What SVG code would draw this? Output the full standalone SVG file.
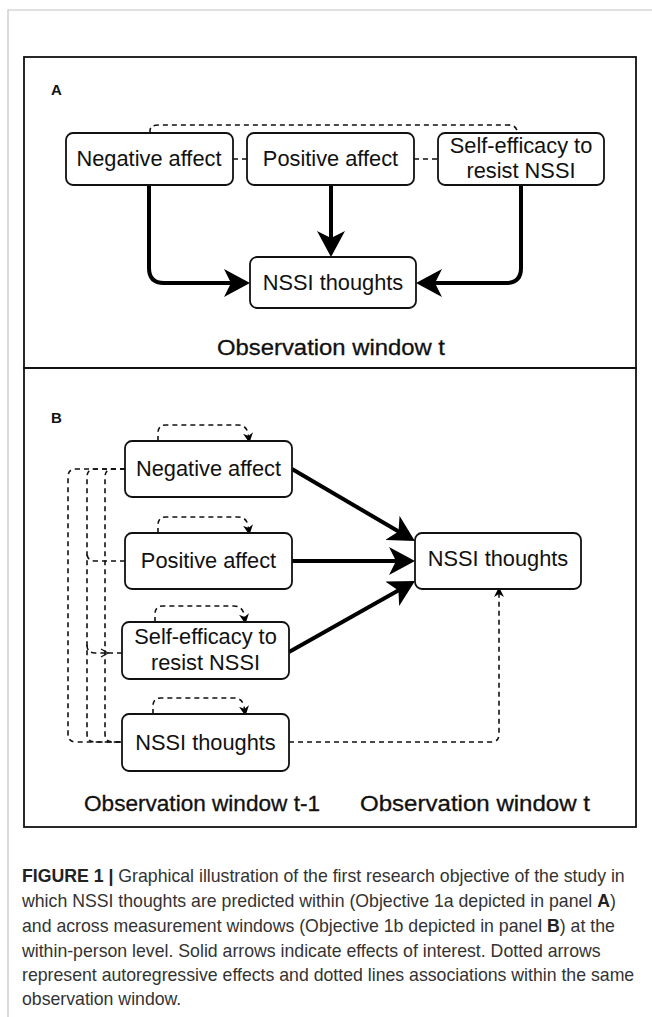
<svg xmlns="http://www.w3.org/2000/svg" width="652" height="1017" viewBox="0 0 652 1017">
<style>
  .frame{fill:none;stroke:#c4c4c4;stroke-width:1.2}
  .panel{fill:none;stroke:#111;stroke-width:1.8}
  .node rect{fill:#fff;stroke:#111;stroke-width:1.8}
  .node text{font-family:"Liberation Sans",Arial,sans-serif;font-size:21.8px;fill:#111;text-anchor:middle}
  .solid{fill:none;stroke:#000;stroke-width:4;stroke-linejoin:round}
  .dash{fill:none;stroke:#111;stroke-width:1.6;stroke-dasharray:5 4}
  .plabel{font-family:"Liberation Sans",Arial,sans-serif;font-size:15px;font-weight:bold;fill:#111}
  .wlabel{font-family:"Liberation Sans",Arial,sans-serif;font-size:21.5px;fill:#111;stroke:#111;stroke-width:0.3}
  .cap{font-family:"Liberation Sans",Arial,sans-serif;font-size:17.7px;fill:#333}
  .b{font-weight:bold;fill:#222}
</style>
<defs>
  <marker id="big" markerUnits="userSpaceOnUse" markerWidth="26" markerHeight="28" viewBox="0 0 26 28" refX="18" refY="14" orient="auto">
    <path d="M0,0 L26,14 L0,28 L7,14 Z" fill="#000"/>
  </marker>
  <marker id="small" markerUnits="userSpaceOnUse" markerWidth="10" markerHeight="10" viewBox="0 0 10 10" refX="7" refY="5" orient="auto">
    <path d="M0,0 L10,5 L0,10 L3,5 Z" fill="#000"/>
  </marker>
  <marker id="chev" markerUnits="userSpaceOnUse" markerWidth="10" markerHeight="10" viewBox="0 0 10 10" refX="8" refY="5" orient="auto">
    <path d="M1,1 L8,5 L1,9" fill="none" stroke="#111" stroke-width="1.3"/>
  </marker>
</defs>

<path class="frame" d="M8,1017 V10 H652"/>

<rect class="panel" x="24" y="57" width="612" height="311"/>
<rect class="panel" x="24" y="368" width="612" height="459"/>
<text class="plabel" x="51" y="95">A</text>
<text class="plabel" x="51" y="423">B</text>

<g id="connectors">
  <!-- Panel A -->
  <path class="dash" d="M150,133 V131 Q150,125 158,125 H508 Q516,125 517,131 V133"/>
  <path class="dash" d="M233,159 H247"/>
  <path class="dash" d="M414,159 H438"/>
  <path class="solid" d="M149,185 V268 Q149,283 164,283 H242" marker-end="url(#big)"/>
  <path class="solid" d="M331,185 V249" marker-end="url(#big)"/>
  <path class="solid" d="M521,185 V268 Q521,283 506,283 H424" marker-end="url(#big)"/>

  <!-- Panel B self loops (autoregressive) -->
  <path class="dash" d="M158,441 V433 Q158,425 166,425 H238 Q246,425 248,433 L249,440" marker-end="url(#small)"/>
  <path class="dash" d="M158,533 V525 Q158,517 166,517 H238 Q246,517 248,525 L249,532" marker-end="url(#small)"/>
  <path class="dash" d="M155,622 V614 Q155,606 163,606 H234 Q242,606 244,614 L245,621" marker-end="url(#small)"/>
  <path class="dash" d="M153,714 V706 Q153,698 161,698 H234 Q242,698 244,706 L245,713" marker-end="url(#small)"/>

  <!-- Panel B left associations -->
  <path class="dash" d="M125,469 H76 Q68,469 68,477 V734 Q68,742 76,742 H122"/>
  <path class="dash" d="M125,469 H95 Q87,469 87,477 V734 Q87,742 95,742 H122"/>
  <path class="dash" d="M125,469 H113 Q105,469 105,477 V734 Q105,742 113,742 H122"/>
  <path class="dash" d="M125,561 H95 Q87,561 87,553"/>
  <path class="dash" d="M87,645 Q87,653 95,653 H108" marker-end="url(#chev)"/>
  <path class="dash" d="M108,653 H122"/>

  <!-- Panel B solid effects -->
  <path class="solid" d="M292,469 L408,537" marker-end="url(#big)"/>
  <path class="solid" d="M292,561 H407" marker-end="url(#big)"/>
  <path class="solid" d="M289,652 L408,585" marker-end="url(#big)"/>

  <!-- NSSI t-1 to NSSI t -->
  <path class="dash" d="M289,742 H491 Q499,742 499,734 V590" marker-end="url(#small)"/>
</g>

<g id="nodeA-neg" class="node"><rect x="66" y="133" width="167" height="52" rx="7"/><text x="149" y="166">Negative affect</text></g>
<g id="nodeA-pos" class="node"><rect x="247" y="133" width="167" height="52" rx="7"/><text x="330.5" y="166">Positive affect</text></g>
<g id="nodeA-se" class="node"><rect x="438" y="133" width="166" height="52" rx="7"/><text x="521" y="153">Self-efficacy to</text><text x="521" y="178">resist NSSI</text></g>
<g id="nodeA-nssi" class="node"><rect x="250" y="257" width="166" height="51" rx="7"/><text x="333" y="290">NSSI thoughts</text></g>
<text class="wlabel" x="217" y="355" textLength="228" lengthAdjust="spacingAndGlyphs">Observation window t</text>

<g id="nodeB-neg" class="node"><rect x="125" y="441" width="167" height="56" rx="7"/><text x="208.5" y="476">Negative affect</text></g>
<g id="nodeB-pos" class="node"><rect x="125" y="533" width="167" height="56" rx="7"/><text x="208.5" y="568">Positive affect</text></g>
<g id="nodeB-se" class="node"><rect x="122" y="622" width="167" height="57" rx="7"/><text x="205.5" y="644">Self-efficacy to</text><text x="205.5" y="670">resist NSSI</text></g>
<g id="nodeB-nssi1" class="node"><rect x="122" y="714" width="167" height="57" rx="7"/><text x="205.5" y="750">NSSI thoughts</text></g>
<g id="nodeB-nssi2" class="node"><rect x="415" y="533" width="166" height="56" rx="7"/><text x="498" y="566">NSSI thoughts</text></g>
<text class="wlabel" x="84" y="811" textLength="236" lengthAdjust="spacingAndGlyphs">Observation window t-1</text>
<text class="wlabel" x="360" y="811" textLength="230" lengthAdjust="spacingAndGlyphs">Observation window t</text>

<g id="caption">
<text class="cap" x="22" y="882"><tspan class="b">FIGURE 1 |</tspan> Graphical illustration of the first research objective of the study in</text>
<text class="cap" x="22" y="907">which NSSI thoughts are predicted within (Objective 1a depicted in panel <tspan class="b">A</tspan>)</text>
<text class="cap" x="22" y="932">and across measurement windows (Objective 1b depicted in panel <tspan class="b">B</tspan>) at the</text>
<text class="cap" x="22" y="957">within-person level. Solid arrows indicate effects of interest. Dotted arrows</text>
<text class="cap" x="22" y="981">represent autoregressive effects and dotted lines associations within the same</text>
<text class="cap" x="22" y="1005">observation window.</text>
</g>
</svg>
